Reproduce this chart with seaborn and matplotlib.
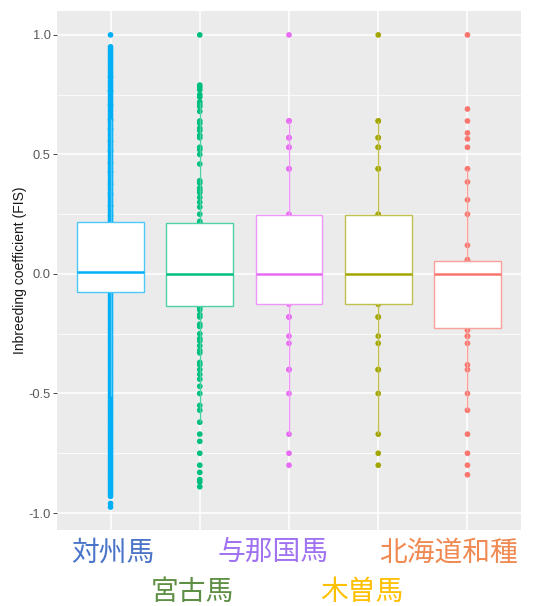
import numpy as np
import pandas as pd
import matplotlib
matplotlib.use("Agg")
import matplotlib.pyplot as plt
import matplotlib.colors as mcolors
import seaborn as sns

# ---------------------------------------------------------------
# Per-individual inbreeding coefficients (FIS) for each breed.
# "upper"/"lower" are the values above the 3rd / below the 1st quartile,
# "core" values lie inside the box and are given with their counts.
# ---------------------------------------------------------------
breeds = ["対州馬", "宮古馬", "与那国馬", "木曽馬", "北海道和種"]

taishu_upper = [0.216,
                0.22, 0.23, 0.24, 0.245, 0.25, 0.26, 0.27, 0.28, 0.285, 0.29,
                0.30, 0.31, 0.32, 0.33, 0.335, 0.34, 0.35, 0.36, 0.37, 0.375,
                0.38, 0.39, 0.40, 0.41, 0.42, 0.425, 0.43, 0.44, 0.45, 0.46,
                0.465, 0.47, 0.48, 0.49, 0.50, 0.51, 0.515, 0.52, 0.53, 0.54,
                0.55, 0.555, 0.56, 0.57, 0.58, 0.59, 0.60, 0.605, 0.61, 0.62,
                0.63, 0.64, 0.645, 0.65, 0.66, 0.67, 0.68, 0.69, 0.70, 0.705,
                0.71, 0.72, 0.73, 0.74, 0.75, 0.76, 0.765, 0.77, 0.78, 0.79,
                0.80, 0.81, 0.82, 0.825, 0.83, 0.84, 0.85, 0.86, 0.87, 0.88,
                0.89, 0.90, 0.91, 0.92, 0.93, 0.94, 0.95, 1.0]
taishu_lower = [-0.08, -0.09, -0.10, -0.11, -0.12, -0.13, -0.14, -0.15, -0.16, -0.17,
                -0.18, -0.19, -0.20, -0.21, -0.22, -0.23, -0.24, -0.25, -0.26, -0.27,
                -0.28, -0.29, -0.30, -0.31, -0.32, -0.33, -0.34, -0.35, -0.36, -0.37,
                -0.38, -0.39, -0.40, -0.41, -0.42, -0.43, -0.44, -0.45, -0.46, -0.47,
                -0.48, -0.49, -0.50, -0.51, -0.52, -0.53, -0.54, -0.55, -0.56, -0.57,
                -0.58, -0.59, -0.60, -0.61, -0.62, -0.63, -0.64, -0.65, -0.66, -0.67,
                -0.68, -0.69, -0.70, -0.71, -0.72, -0.73, -0.74, -0.75, -0.76, -0.77,
                -0.78, -0.79, -0.80, -0.81, -0.82, -0.83, -0.84, -0.85, -0.86, -0.87,
                -0.88, -0.89, -0.90, -0.91, -0.92, -0.93, -0.96, -0.975]
taishu_core = [-0.077, -0.06, -0.04, -0.02, 0.0, 0.01, 0.05, 0.10, 0.15, 0.20]
taishu_core_n = [1, 22, 22, 22, 21, 1, 22, 22, 22, 21]

miyako_upper = [0.213, 0.22, 0.25, 0.28, 0.30, 0.32, 0.34, 0.35, 0.36, 0.38,
                0.39, 0.46, 0.50, 0.52, 0.53, 0.57, 0.58, 0.60, 0.61, 0.63,
                0.64, 0.68, 0.70, 0.71, 0.72, 0.74, 0.75, 0.77, 0.78, 0.79,
                1.0]
miyako_lower = [-0.14, -0.15, -0.17, -0.18, -0.21, -0.22, -0.25, -0.27, -0.28, -0.30,
                -0.32, -0.33, -0.37, -0.38, -0.40, -0.42, -0.44, -0.47, -0.50, -0.55,
                -0.57, -0.62, -0.67, -0.70, -0.75, -0.80, -0.83, -0.86, -0.87, -0.89]
miyako_core = [-0.134, -0.10, -0.05, 0.0, 0.05, 0.10, 0.15, 0.20]
miyako_core_n = [1, 10, 10, 19, 5, 5, 5, 5]

yonaguni_upper = [0.247, 0.25, 0.44, 0.44, 0.53, 0.53, 0.57, 0.57, 0.64, 0.64, 1.0]
yonaguni_lower = [-0.80, -0.75, -0.67, -0.50, -0.40, -0.40, -0.29, -0.26, -0.18, -0.18]
yonaguni_core = [-0.127, -0.10, -0.05, 0.0, 0.10, 0.20]
yonaguni_core_n = [1, 3, 3, 8, 3, 2]

kiso_upper = [0.247, 0.25, 0.44, 0.44, 0.53, 0.53, 0.57, 0.57, 0.64, 0.64, 1.0]
kiso_lower = [-0.80, -0.75, -0.67, -0.50, -0.40, -0.40, -0.29, -0.26, -0.18, -0.18]
kiso_core = [-0.127, -0.10, -0.05, 0.0, 0.10, 0.20]
kiso_core_n = [1, 3, 3, 8, 3, 2]

hokkaido_upper = [0.054, 0.06, 0.12, 0.25, 0.31, 0.385, 0.44, 0.53, 0.565, 0.59,
                  0.64, 0.69, 1.0]
hokkaido_lower = [-0.84, -0.80, -0.75, -0.67, -0.57, -0.50, -0.40, -0.38, -0.29, -0.26,
                  -0.26, -0.235]
hokkaido_core = [-0.227, -0.15, -0.10, -0.05, 0.0, 0.03]
hokkaido_core_n = [1, 2, 3, 3, 11, 4]

y_ticks = [-1.0, -0.5, 0.0, 0.5, 1.0]
y_tick_labels = ["-1.0", "-0.5", "0.0", "0.5", "1.0"]
y_label = "Inbreeding coefficient (FIS)"

# colours: ggplot hue palette for marks, separate colours for the big labels
mark_colors = ["#00B0F6", "#00BF7D", "#E76BF3", "#A3A500", "#F8766D"]
label_colors = ["#4A74C9", "#5F8F45", "#A072F2", "#FFC000", "#F08A52"]

# ---------------------------------------------------------------
groups = [
    (taishu_upper, taishu_lower, taishu_core, taishu_core_n),
    (miyako_upper, miyako_lower, miyako_core, miyako_core_n),
    (yonaguni_upper, yonaguni_lower, yonaguni_core, yonaguni_core_n),
    (kiso_upper, kiso_lower, kiso_core, kiso_core_n),
    (hokkaido_upper, hokkaido_lower, hokkaido_core, hokkaido_core_n),
]
frames = []
for name, (up, lo, core, n) in zip(breeds, groups):
    vals = np.concatenate([lo, np.repeat(core, n), up])
    frames.append(pd.DataFrame({"breed": name, "fis": vals}))
df = pd.concat(frames, ignore_index=True)

sns.set_theme(style="darkgrid", rc={
    "axes.facecolor": "#EBEBEB",
    "grid.color": "white",
    "axes.axisbelow": True,
    "axes.unicode_minus": False,
})
plt.rcParams["font.family"] = ["Liberation Sans", "Noto Sans CJK JP", "DejaVu Sans"]

fig = plt.figure(figsize=(5.41, 6.06), dpi=100)
ax = fig.add_axes([57 / 541, 76 / 606, 464 / 541, 519 / 606])

# individual points (drawn beneath the white boxes)
sns.stripplot(data=df, x="breed", y="fis", hue="breed", order=breeds,
              palette=dict(zip(breeds, mark_colors)), jitter=False, size=4.1,
              linewidth=0, legend=False, zorder=1, ax=ax)

def lighten(c, amount):
    rgb = np.array(mcolors.to_rgb(c))
    return tuple(rgb + (1 - rgb) * amount)

for name, col in zip(breeds, mark_colors):
    soft = lighten(col, 0.3)
    sns.boxplot(data=df[df["breed"] == name], x="breed", y="fis", order=breeds,
                color="white", linecolor=col, width=0.75, linewidth=1.0,
                showfliers=False, showcaps=False,
                boxprops=dict(edgecolor=soft, zorder=2),
                whiskerprops=dict(color=soft, zorder=2),
                medianprops=dict(color=col, linewidth=1.8, zorder=3),
                ax=ax)

ax.set_xlim(-0.6, 4.6)
ax.set_ylim(-1.071, 1.100)
ax.set_yticks(y_ticks)
ax.set_yticklabels(y_tick_labels)
ax.set_yticks([-0.75, -0.25, 0.25, 0.75], minor=True)
ax.grid(True, which="major", color="white", linewidth=1.1)
ax.grid(True, which="minor", axis="y", color="white", linewidth=0.55)
for s in ax.spines.values():
    s.set_visible(False)
ax.tick_params(axis="y", which="major", length=3, width=0.7, color="#444444",
               labelsize=9.3, labelcolor="#5a5a5a", pad=1.5, left=True)
ax.tick_params(axis="y", which="minor", length=0)
ax.tick_params(axis="x", length=0, labelbottom=False)
ax.set_xlabel("")
ax.set_ylabel(y_label, fontsize=10, color="#1a1a1a")
ax.yaxis.set_label_coords(-0.064, 0.5)

# breed names below the panel, in two staggered rows
label_pos = [(0.03, -0.043), (0.92, -0.120), (1.82, -0.043), (2.82, -0.120), (3.79, -0.043)]
for name, col, (xp, yp) in zip(breeds, label_colors, label_pos):
    ax.text(xp, yp, name, transform=ax.get_xaxis_transform(), ha="center",
            va="center", fontsize=20, color=col,
            family=["Noto Sans CJK JP", "DejaVu Sans"], clip_on=False)

fig.savefig("out.png", dpi=100)
